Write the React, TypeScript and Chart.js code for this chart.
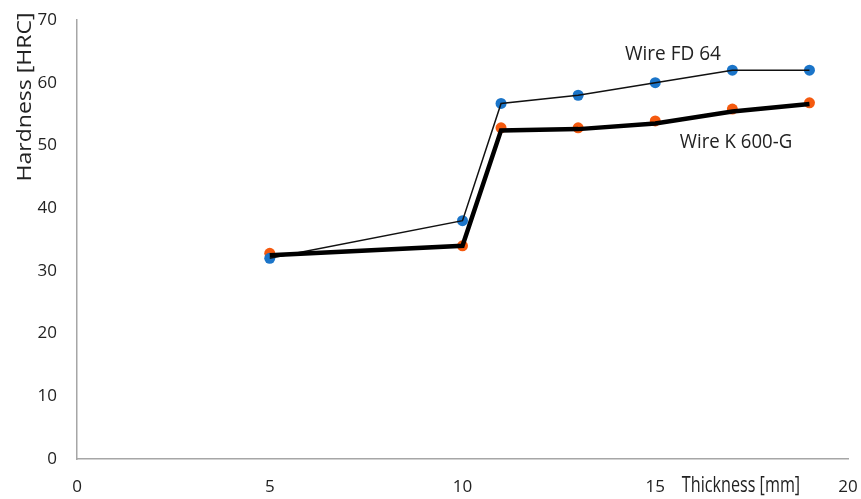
import React, { useEffect, useRef } from "react";
import { Chart, registerables } from "chart.js";

Chart.register(...registerables);

const thickness = [5, 10, 11, 13, 15, 17, 19];
const fd64 = [32, 38, 56.7, 58, 60, 62, 62];
const k600Points = [32.8, 34, 52.8, 52.8, 53.9, 55.8, 56.8];
const k600Line = [32.5, 34, 52.4, 52.6, 53.5, 55.4, 56.6];
const xTicks = [0, 5, 10, 15, 20];
const yTicks = [0, 10, 20, 30, 40, 50, 60, 70];

const FONT = "'Open Sans', 'Noto Sans', sans-serif";
const BLUE = "#1b75c9";
const ORANGE = "#f55a0f";
const AXIS = "#a6a6a6";

const textPlugin = {
  id: "texts",
  afterDraw(chart: any) {
    const ctx = chart.ctx;
    ctx.save();
    ctx.fillStyle = "#222";
    ctx.font = `23px ${FONT}`;
    ctx.translate(25, 97);
    ctx.rotate(-Math.PI / 2);
    ctx.scale(1.0, 0.9);
    ctx.textAlign = "center";
    ctx.textBaseline = "middle";
    ctx.fillText("Hardness [HRC]", 0, 0);
    ctx.restore();

    ctx.save();
    ctx.fillStyle = "#222";
    ctx.font = `21px ${FONT}`;
    ctx.textAlign = "center";
    ctx.textBaseline = "middle";
    ctx.translate(741, 486);
    ctx.scale(0.77, 1);
    ctx.fillText("Thickness [mm]", 0, 0);
    ctx.restore();

    ctx.save();
    ctx.fillStyle = "#222";
    ctx.font = `20px ${FONT}`;
    ctx.textAlign = "center";
    ctx.textBaseline = "middle";
    ctx.translate(673, 54);
    ctx.scale(0.95, 1);
    ctx.fillText("Wire FD 64", 0, 0);
    ctx.restore();

    ctx.save();
    ctx.fillStyle = "#222";
    ctx.font = `20px ${FONT}`;
    ctx.textAlign = "center";
    ctx.textBaseline = "middle";
    ctx.translate(736, 142);
    ctx.scale(0.93, 1);
    ctx.fillText("Wire K 600-G", 0, 0);
    ctx.restore();
  },
};

function zeroPad(s: any) {
  s.paddingTop = 0;
  s.paddingBottom = 0;
  s.paddingLeft = 0;
  s.paddingRight = 0;
}

export default function App() {
  const ref = useRef<HTMLCanvasElement>(null);
  useEffect(() => {
    document.body.style.margin = "0";
    const chart = new Chart(ref.current!, {
      type: "scatter",
      data: {
        datasets: [
          {
            label: "FD 64 markers",
            data: thickness.map((x, i) => ({ x, y: fd64[i] })),
            showLine: false,
            pointRadius: 5.5,
            pointBackgroundColor: BLUE,
            pointBorderWidth: 0,
            order: 3,
          },
          {
            label: "K 600-G markers",
            data: thickness.map((x, i) => ({ x, y: k600Points[i] })),
            showLine: false,
            pointRadius: 5.5,
            pointBackgroundColor: ORANGE,
            pointBorderWidth: 0,
            order: 3,
          },
          {
            label: "Wire FD 64",
            data: thickness.map((x, i) => ({ x, y: fd64[i] })),
            showLine: true,
            borderColor: "#111",
            borderWidth: 1.5,
            pointRadius: 0,
            order: 2,
          },
          {
            label: "Wire K 600-G",
            data: thickness.map((x, i) => ({ x, y: k600Line[i] })),
            showLine: true,
            borderColor: "#000",
            borderWidth: 4.5,
            pointRadius: 0,
            order: 1,
          },
        ],
      },
      options: {
        animation: false,
        responsive: false,
        layout: { padding: { top: 20, right: 13, left: 0, bottom: 0 } },
        plugins: { legend: { display: false }, tooltip: { enabled: false } },
        scales: {
          x: {
            type: "linear",
            min: 0,
            max: 20,
            afterBuildTicks: (s: any) => {
              s.ticks = xTicks.map((v) => ({ value: v }));
            },
            afterFit: (s: any) => {
              s.height = 40;
              zeroPad(s);
            },
            grid: { display: false, drawTicks: false },
            border: { display: true, color: AXIS, width: 1.5 },
            ticks: {
              padding: 18,
              color: "#222",
              font: { family: FONT, size: 17 },
              maxRotation: 0,
              callback: (v: any) => String(v),
            },
          },
          y: {
            type: "linear",
            min: 0,
            max: 70,
            afterBuildTicks: (s: any) => {
              s.ticks = yTicks.map((v) => ({ value: v }));
            },
            afterFit: (s: any) => {
              s.width = 77;
              zeroPad(s);
            },
            grid: { display: false, drawTicks: false },
            border: { display: true, color: AXIS, width: 1.5 },
            ticks: {
              padding: 20,
              color: "#222",
              font: { family: FONT, size: 17 },
              callback: (v: any) => String(v),
            },
          },
        },
      },
      plugins: [textPlugin],
    });
    return () => chart.destroy();
  }, []);
  return (
    <div style={{ position: "absolute", left: 0, top: 0, width: 861, height: 499, background: "#fff" }}>
      <canvas ref={ref} width={861} height={499} style={{ display: "block" }} />
    </div>
  );
}
